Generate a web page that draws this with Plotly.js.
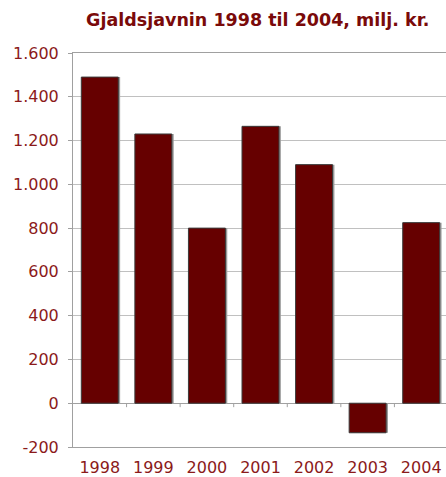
<!DOCTYPE html>
<html><head><meta charset="utf-8">
<script src="https://cdn.plot.ly/plotly-3.0.1.min.js"></script>
<style>html,body{margin:0;padding:0;overflow:hidden;background:#fff}#c{width:446px;height:477px}</style>
</head><body><div id="c"></div>
<script>
const chartTitle = "Gjaldsjavnin 1998 til 2004, milj. kr.";
const years = ["1998","1999","2000","2001","2002","2003","2004"];
const values = [1490, 1230, 800, 1265, 1090, -135, 825];
const yTickVals = [-200, 0, 200, 400, 600, 800, 1000, 1200, 1400, 1600];
const yTickText = ["-200","0","200","400","600","800","1.000","1.200","1.400","1.600"];

const labelColor = "#8b1a1a";
const barW = 0.69;
const shapes = [];
for (let i = 0; i < years.length - 1; i++) {
  shapes.push({type:"line", xref:"x", yref:"y", x0:i+0.5, x1:i+0.5, y0:0, y1:-18,
    line:{color:"#a0a0a0", width:1}, layer:"above"});
}
Plotly.newPlot("c", [
 {type:"bar", x:years, y:values, width:barW, offset:-barW/2+0.035,
  marker:{color:"#9a9a9a", line:{width:0}}, hoverinfo:"none"},
 {type:"bar", x:years, y:values, width:barW, offset:-barW/2,
  marker:{color:"#660000", line:{color:"#3a3a3a", width:1}}, hoverinfo:"none"}
], {
  width:446, height:477,
  margin:{l:73, r:0, t:53, b:30},
  barmode:"overlay",
  paper_bgcolor:"#fff", plot_bgcolor:"#fff",
  showlegend:false,
  title:{text:"<b>"+chartTitle+"</b>", font:{family:"DejaVu Sans", size:17.5, color:"#7a0a0a"},
    xref:"container", yref:"container", x:0.578, xanchor:"center", y:1-20/477, yanchor:"middle"},
  xaxis:{type:"category", range:[-0.5, 6.463], showgrid:false, zeroline:false,
    showline:true, mirror:true, linecolor:"#a0a0a0", linewidth:1, ticks:"",
    tickfont:{family:"DejaVu Sans", size:16, color:labelColor}, ticklabelstandoff:6},
  yaxis:{range:[-200,1600], tickvals:yTickVals, ticktext:yTickText,
    showgrid:true, gridcolor:"#c0c0c0", gridwidth:1,
    zeroline:true, zerolinecolor:"#a0a0a0", zerolinewidth:1,
    showline:true, linecolor:"#a0a0a0", linewidth:1,
    ticks:"outside", ticklen:4, tickcolor:"#a0a0a0",
    tickfont:{family:"DejaVu Sans", size:16, color:labelColor}, ticklabelstandoff:6},
  shapes:shapes
}, {staticPlot:true});
</script></body></html>
